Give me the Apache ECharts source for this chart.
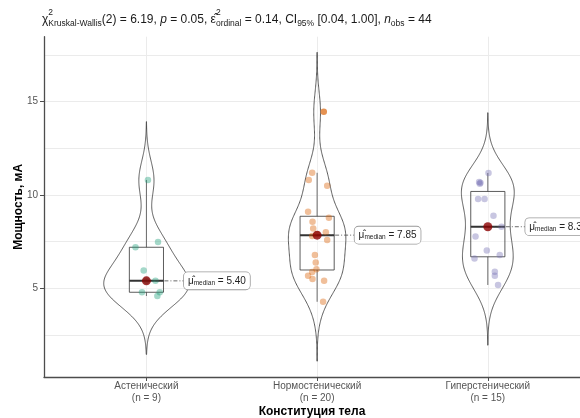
<!DOCTYPE html>
<html><head><meta charset="utf-8">
<script src="https://cdn.jsdelivr.net/npm/echarts@6/dist/echarts.min.js"></script>
<style>html,body{margin:0;padding:0;background:#fff}#c{width:580px;height:418px}</style>
</head><body><div id="c"></div>
<script>
// ---- data ----
const categories = ['Астенический', 'Нормостенический', 'Гиперстенический'];
const asthenic = [10.80, 7.20, 7.48, 5.96, 5.40, 4.79, 4.79, 4.59, 5.40];
const normosthenic = [14.46, 11.19, 10.80, 10.50, 9.10, 8.78, 8.57, 8.21, 8.00, 7.80, 7.59, 6.78, 6.39, 6.02, 5.87, 5.68, 5.50, 5.41, 4.28, 7.90];
const hypersthenic = [11.18, 10.70, 10.66, 10.60, 9.78, 9.78, 8.89, 8.30, 7.78, 7.02, 6.78, 6.60, 5.89, 5.68, 5.18];
// horizontal jitter (fraction of category spacing)
const jitterAsthenic = [0.009, -0.064, 0.068, -0.016, 0.053, -0.026, 0.078, 0.064, 0];
const jitterNormo = [0.039, -0.029, -0.049, 0.059, -0.053, 0.069, -0.027, -0.023, 0.051, -0.029, 0.059, -0.013, -0.008, -0.004, -0.029, -0.053, -0.027, 0.041, 0.035, 0];
const jitterHyper = [0.004, -0.051, -0.043, -0.047, -0.057, -0.019, 0.033, 0.080, -0.072, -0.006, 0.070, -0.078, 0.041, 0.041, 0.060];
const yTicks = [5, 10, 15];
const yGrid = [2.5, 5, 7.5, 10, 12.5, 15, 17.5];
const xTicks = [1, 2, 3];

const groups = [asthenic, normosthenic, hypersthenic];
const jitters = [jitterAsthenic, jitterNormo, jitterHyper];
const light = ['rgba(27,158,119,0.5)', 'rgba(217,95,2,0.5)', 'rgba(117,112,179,0.5)'];
const strong = ['rgba(27,158,119,0.85)', 'rgba(217,95,2,0.85)', 'rgba(117,112,179,0.85)'];

function q7(s, p) { const h = (s.length - 1) * p, lo = Math.floor(h), hi = Math.min(lo + 1, s.length - 1); return s[lo] + (h - lo) * (s[hi] - s[lo]); }
function stats(v) {
  const s = [...v].sort((a, b) => a - b), n = s.length;
  const q1 = q7(s, .25), med = q7(s, .5), q3 = q7(s, .75), iqr = q3 - q1;
  const lf = q1 - 1.5 * iqr, uf = q3 + 1.5 * iqr;
  const inl = s.filter(x => x >= lf && x <= uf);
  const mean = s.reduce((a, b) => a + b, 0) / n;
  const sd = Math.sqrt(s.reduce((a, b) => a + (b - mean) ** 2, 0) / (n - 1));
  const bw = 0.9 * Math.min(sd, iqr / 1.34) * Math.pow(n, -0.2);
  const lo = s[0] - 3 * bw, hi = s[n - 1] + 3 * bw, N = 256;
  const kde = [];
  const norm = 1 / (n * bw * Math.sqrt(2 * Math.PI));
  for (let k = 0; k <= N; k++) {
    const y = lo + (hi - lo) * k / N;
    let d = 0; for (const x of s) { const z = (y - x) / bw; d += Math.exp(-0.5 * z * z); }
    kde.push([y, d * norm]);
  }
  return { q1, med, q3, lf, uf, wlo: inl[0], whi: inl[inl.length - 1], kde, n };
}
const S = groups.map(stats);
// scale = "area": one common maximum for all violins
const globalMax = Math.max(...S.map(s => Math.max(...s.kde.map(p => p[1]))));

const FONT = '"Liberation Sans", Arial, sans-serif';

// ---- title with sub/superscripts ----
const titleParts = [
  ['χ', 'n'], ['2', 'p', true], ['Kruskal-Wallis', 'b'], ['(2) = 6.19, ', 'n'], ['p', 'i'], [' = 0.05, ', 'n'],
  ['ε̂', 'n'], ['2', 'p', true], ['ordinal', 'b'], [' = 0.14, CI', 'n'], ['95%', 'b'], [' [0.04, 1.00], ', 'n'],
  ['n', 'i'], ['obs', 'b'], [' = 44', 'n']
];
const mainSize = 12, smallSize = 8.5;
const cv = document.createElement('canvas').getContext('2d');
function fontOf(kind) {
  if (kind === 'i') return 'italic ' + mainSize + 'px ' + FONT;
  if (kind === 'b' || kind === 'p') return smallSize + 'px ' + FONT;
  return mainSize + 'px ' + FONT;
}
const titleEls = [];
(function () {
  let x = 42; const yc = 20; let pendingSup = 0;
  for (const [t, k, stack] of titleParts) {
    cv.font = fontOf(k);
    const w = cv.measureText(t).width;
    const y = k === 'p' ? yc - 7 : k === 'b' ? yc + 4 : yc;
    titleEls.push({ type: 'text', x: x, y: y, silent: true, style: { text: t, font: fontOf(k), fill: '#1a1a1a', verticalAlign: 'middle', align: 'left' } });
    if (k === 'p' && stack) { pendingSup = w; continue; }
    x += Math.max(w, pendingSup); pendingSup = 0;
  }
})();

const chart = echarts.init(document.getElementById('c'), null, { renderer: 'canvas' });
const axisColor = '#4d4d4d';
const series = [];
// violins
series.push({
  type: 'custom', xAxisIndex: 0, yAxisIndex: 0, silent: true, z: 1,
  data: S.map((s, i) => [i + 1, s.med]),
  encode: { x: 0, y: 1 },
  renderItem(params, api) {
    const st = S[params.dataIndex], c = params.dataIndex + 1;
    const right = st.kde.map(([y, d]) => api.coord([c + 0.25 * d / globalMax, y]));
    const left = st.kde.slice().reverse().map(([y, d]) => api.coord([c - 0.25 * d / globalMax, y]));
    return { type: 'polygon', shape: { points: right.concat(left) }, style: { fill: 'rgba(255,255,255,0.2)', stroke: '#333', lineWidth: 0.8 } };
  }
});
// boxes
series.push({
  type: 'custom', xAxisIndex: 0, yAxisIndex: 0, silent: true, z: 2,
  data: S.map((s, i) => [i + 1, s.med]),
  encode: { x: 0, y: 1 },
  renderItem(params, api) {
    const st = S[params.dataIndex], c = params.dataIndex + 1, hw = 0.1;
    const a = api.coord([c - hw, st.q3]), b = api.coord([c + hw, st.q1]);
    const m1 = api.coord([c - hw, st.med]), m2 = api.coord([c + hw, st.med]);
    const t1 = api.coord([c, st.q3]), t2 = api.coord([c, st.whi]);
    const b1 = api.coord([c, st.q1]), b2 = api.coord([c, st.wlo]);
    const ls = { stroke: '#444', lineWidth: 0.8 };
    return { type: 'group', children: [
      { type: 'line', shape: { x1: t1[0], y1: t1[1], x2: t2[0], y2: t2[1] }, style: ls },
      { type: 'line', shape: { x1: b1[0], y1: b1[1], x2: b2[0], y2: b2[1] }, style: ls },
      { type: 'rect', shape: { x: a[0], y: a[1], width: b[0] - a[0], height: b[1] - a[1] }, style: { fill: 'rgba(255,255,255,0.2)', stroke: '#333', lineWidth: 0.8 } },
      { type: 'line', shape: { x1: m1[0], y1: m1[1], x2: m2[0], y2: m2[1] }, style: { stroke: '#333', lineWidth: 2 } }
    ] };
  }
});
// points
groups.forEach((g, i) => {
  const st = S[i];
  const normal = [], out = [];
  g.forEach((v, j) => { const p = [i + 1 + jitters[i][j], v]; (v < st.lf || v > st.uf ? out : normal).push(p); });
  series.push({ type: 'scatter', xAxisIndex: 0, yAxisIndex: 0, z: 3, silent: true, symbolSize: 6.5, data: normal, itemStyle: { color: light[i] } });
  if (out.length) series.push({ type: 'scatter', xAxisIndex: 0, yAxisIndex: 0, z: 3, silent: true, symbolSize: 6.5, data: out, itemStyle: { color: strong[i] } });
});
// median label + dashed connector
series.push({
  type: 'custom', xAxisIndex: 0, yAxisIndex: 0, silent: true, z: 4, clip: false,
  data: S.map((s, i) => [i + 1, s.med]),
  encode: { x: 0, y: 1 },
  renderItem(params, api) {
    const st = S[params.dataIndex], c = params.dataIndex + 1;
    const p = api.coord([c, st.med]);
    const lx = p[0] + 37.5;
    return { type: 'group', children: [
      { type: 'line', shape: { x1: p[0], y1: p[1], x2: lx, y2: p[1] }, style: { stroke: '#444', lineWidth: 0.8, lineDash: [4, 2, 1, 2] } },
      { type: 'text', x: lx, y: p[1], style: {
        text: '{m|μ̂}{s|median}{v| = ' + st.med.toFixed(2) + '}',
        rich: {
          m: { fontSize: 10, fontFamily: FONT, fill: '#222' },
          s: { fontSize: 6.5, fontFamily: FONT, fill: '#222', verticalAlign: 'bottom', padding: [3, 0, 0, 0] },
          v: { fontSize: 10, fontFamily: FONT, fill: '#222' }
        },
        align: 'left', verticalAlign: 'middle',
        backgroundColor: '#fff', borderColor: '#999', borderWidth: 0.8, borderRadius: 4, padding: [4, 4, 3, 4]
      } }
    ] };
  }
});
// median markers
series.push({ type: 'scatter', xAxisIndex: 0, yAxisIndex: 0, z: 5, silent: true, symbolSize: 9, data: S.map((s, i) => [i + 1, s.med]), itemStyle: { color: '#8B0000' } });

chart.setOption({
  animation: false,
  backgroundColor: '#fff',
  textStyle: { fontFamily: FONT },
  graphic: titleEls,
  grid: { left: 44, right: 0, top: 36.7, bottom: 41, containLabel: false, outerBoundsMode: 'none' },
  xAxis: {
    type: 'value', min: 0.4, max: 3.54,
    axisLine: { show: true, onZero: false, lineStyle: { color: axisColor, width: 1.3 } },
    axisTick: { show: true, customValues: xTicks, length: 4, lineStyle: { color: axisColor } },
    axisLabel: { customValues: xTicks, color: '#555', fontSize: 10, lineHeight: 12, margin: 3,
      formatter: v => categories[v - 1] + '\n(n = ' + groups[v - 1].length + ')' },
    splitLine: { show: true, lineStyle: { color: '#ebebeb', width: 1 } },
    name: 'Конституция тела', nameLocation: 'middle', nameGap: 29, nameMoveOverlap: false,
    nameTextStyle: { fontSize: 12, fontWeight: 'bold', color: '#000' }
  },
  yAxis: [{
    type: 'value', min: 0.25, max: 18.48,
    axisLine: { show: true, lineStyle: { color: axisColor, width: 1.3 } },
    axisTick: { show: true, customValues: yTicks, length: 4, lineStyle: { color: axisColor } },
    axisLabel: { customValues: yTicks, color: '#555', fontSize: 10, margin: 6 },
    splitLine: { show: false },
    name: 'Мощность, мА', nameLocation: 'middle', nameGap: 19, nameMoveOverlap: false,
    nameTextStyle: { fontSize: 12, fontWeight: 'bold', color: '#000' }
  }, {
    type: 'value', min: 0.25, max: 18.48, position: 'left',
    axisLine: { show: false }, axisLabel: { show: false },
    axisTick: { show: false, customValues: yGrid },
    splitLine: { show: true, lineStyle: { color: '#ebebeb', width: 1 } }
  }],
  series
});
</script></body></html>
